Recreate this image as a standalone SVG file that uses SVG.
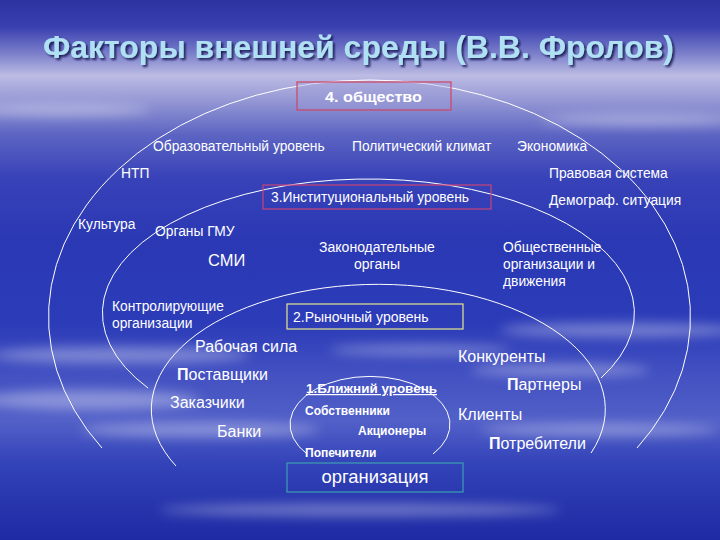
<svg xmlns="http://www.w3.org/2000/svg" width="720" height="540" viewBox="0 0 720 540">
<defs>
<linearGradient id="bg" x1="0" y1="0" x2="0" y2="1">
<stop offset="0" stop-color="#2c32a0"/>
<stop offset="0.05" stop-color="#3a40b0"/>
<stop offset="0.10" stop-color="#7c80ca"/>
<stop offset="0.14" stop-color="#bcbce4"/>
<stop offset="0.18" stop-color="#9a9cd6"/>
<stop offset="0.25" stop-color="#5c64c2"/>
<stop offset="0.33" stop-color="#3842b8"/>
<stop offset="0.45" stop-color="#2a38b4"/>
<stop offset="0.6" stop-color="#2c3cb8"/>
<stop offset="0.7" stop-color="#4452c2"/>
<stop offset="0.78" stop-color="#5260c8"/>
<stop offset="0.86" stop-color="#3242b8"/>
<stop offset="1" stop-color="#1e2aa4"/>
</linearGradient>
<filter id="blur" x="-20%" y="-50%" width="140%" height="200%"><feGaussianBlur stdDeviation="6"/></filter>
<filter id="sh" x="-5%" y="-20%" width="110%" height="140%"><feDropShadow dx="2" dy="2" stdDeviation="0.8" flood-color="#10104a" flood-opacity="0.85"/></filter>
<style>
.t{font-family:"Liberation Sans",Arial,sans-serif;fill:#ffffff;font-size:13.8px}
.b{font-weight:bold}
.m{font-size:16px}
.s{font-size:12px;font-weight:bold}
.p{font-weight:bold;font-size:16px}
.arc{fill:none;stroke:#ffffff;stroke-width:1}
.title{font-family:"Liberation Sans",Arial,sans-serif;font-weight:bold;font-size:31px;fill:#b0e0f4}
</style>
</defs>
<rect x="0" y="0" width="720" height="540" fill="url(#bg)"/>
<g opacity="0.35" fill="#ffffff" filter="url(#blur)">
<ellipse cx="60" cy="110" rx="90" ry="6"/>
<ellipse cx="640" cy="120" rx="100" ry="6"/>
<ellipse cx="120" cy="355" rx="130" ry="8"/>
<ellipse cx="90" cy="400" rx="110" ry="10"/>
<ellipse cx="200" cy="430" rx="120" ry="7"/>
<ellipse cx="620" cy="330" rx="120" ry="7"/>
<ellipse cx="560" cy="370" rx="90" ry="6"/>
<ellipse cx="420" cy="350" rx="90" ry="5"/>
<ellipse cx="600" cy="430" rx="120" ry="6"/>
<ellipse cx="360" cy="510" rx="200" ry="6"/>
</g>

<text class="title" x="43" y="58" textLength="631" lengthAdjust="spacingAndGlyphs" filter="url(#sh)">Факторы внешней среды (В.В. Фролов)</text>

<g id="connectors">
<path class="arc" d="M102,448 A321,237 0 1 1 637,448"/>
<path class="arc" d="M148,388 A266,134 0 1 1 601,378"/>
<path class="arc" d="M176,466 A227,125 0 1 1 591,453"/>
<path class="arc" d="M307,454 A80,48 0 1 1 433,454"/>
</g>

<g id="level4">
<rect x="297" y="82" width="154" height="28" fill="#9a9ad8" fill-opacity="0.35" stroke="#d04464" stroke-width="1.2"/>
<text class="t b" x="325" y="102" textLength="97" lengthAdjust="spacingAndGlyphs" style="font-size:14px">4. общество</text>
</g>
<g id="obr"><text class="t" x="153" y="151">Образовательный уровень</text></g>
<g id="polit"><text class="t" x="352" y="151">Политический климат</text></g>
<g id="econ"><text class="t" x="517" y="151">Экономика</text></g>
<g id="ntp"><text class="t" x="121" y="178">НТП</text></g>
<g id="pravo"><text class="t" x="549" y="178">Правовая система</text></g>
<g id="demo"><text class="t" x="549" y="205">Демограф. ситуация</text></g>
<g id="kult"><text class="t" x="78" y="229">Культура</text></g>

<g id="level3">
<rect x="263" y="185" width="228" height="24" fill="none" stroke="#c84478" stroke-width="1.2"/>
<text class="t" x="271" y="202">3.Институциональный уровень</text>
</g>
<g id="gmu"><text class="t" x="155" y="236">Органы ГМУ</text></g>
<g id="smi"><text class="t" x="208" y="266" style="font-size:16.5px">СМИ</text></g>
<g id="zakon"><text class="t" text-anchor="middle" style="font-size:14px"><tspan x="377" y="252">Законодательные</tspan><tspan x="377" y="269">органы</tspan></text></g>
<g id="obsch"><text class="t"><tspan x="503" y="252">Общественные</tspan><tspan x="503" y="269">организации и</tspan><tspan x="503" y="286">движения</tspan></text></g>
<g id="kontrol"><text class="t"><tspan x="112" y="311">Контролирующие</tspan><tspan x="112" y="328">организации</tspan></text></g>

<g id="level2">
<rect x="287" y="304" width="176" height="25" fill="none" stroke="#e6e68c" stroke-width="1.2"/>
<text class="t" x="293" y="322" style="font-size:14px">2.Рыночный уровень</text>
</g>
<g id="rab"><text class="t m" x="195" y="352">Рабочая сила</text></g>
<g id="konk"><text class="t m" x="458" y="362">Конкуренты</text></g>
<g id="post"><text class="t m" x="177" y="380"><tspan class="p">П</tspan>оставщики</text></g>
<g id="partn"><text class="t m" x="507" y="390"><tspan class="p">П</tspan>артнеры</text></g>
<g id="zakaz"><text class="t m" x="170" y="408">Заказчики</text></g>
<g id="klient"><text class="t m" x="458" y="420">Клиенты</text></g>
<g id="bank"><text class="t m" x="217" y="437">Банки</text></g>
<g id="potr"><text class="t m" x="489" y="449"><tspan class="p">П</tspan>отребители</text></g>

<g id="level1">
<text class="t s" x="306" y="393" text-decoration="underline" textLength="131" lengthAdjust="spacingAndGlyphs">1.Ближний уровень</text>
</g>
<g id="sobst"><text class="t s" x="305" y="415">Собственники</text></g>
<g id="akc"><text class="t s" x="358" y="435">Акционеры</text></g>
<g id="pop"><text class="t s" x="305" y="457">Попечители</text></g>

<g id="org">
<rect x="287" y="463" width="176" height="29" fill="none" stroke="#3ca0b0" stroke-width="1.2"/>
<text class="t" x="375" y="483" text-anchor="middle" style="font-size:18.4px">организация</text>
</g>
</svg>
